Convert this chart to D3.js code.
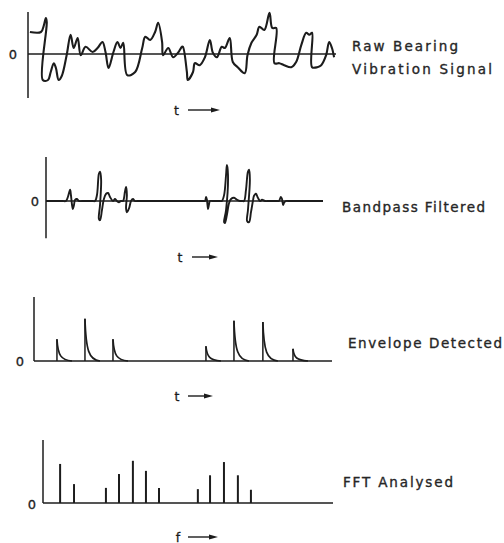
<!DOCTYPE html>
<html><head><meta charset="utf-8">
<script src="https://cdn.jsdelivr.net/npm/d3@7"></script>
<style>body{margin:0;background:#fff}svg{display:block}</style>
</head><body>
<svg id="c" width="504" height="543"></svg>
<script>
// ---- data (time/frequency in 0..100 units, amplitudes in arbitrary units) ----
const rawTime = [0.3,3.9,4.9,5.5,5.8,4.5,6.2,7.1,8.1,8.8,9.7,10.7,12.3,13.6,14.6,15.9,16.9,18.5,20.8,22.4,24.0,25.0,26.0,27.6,28.9,29.9,30.8,32.1,34.7,37.0,38.0,39.6,41.2,42.2,43.5,43.8,45.5,47.1,48.7,50.0,50.3,51.6,51.9,53.6,54.2,55.8,57.5,59.1,60.1,61.4,63.0,64.0,65.6,66.6,68.2,70.5,71.4,72.7,74.4,75.3,76.9,78.6,79.5,80.8,80.2,81.8,83.4,85.7,87.3,89.0,90.6,91.6,92.5,92.5,94.2,95.5,97.1,98.1,99.0,99.7];
const rawAmp  = [0.55,0.55,0.73,0.9,0.8,-0.65,-0.65,-0.45,-0.23,-0.35,-0.65,-0.55,-0.03,0.48,0.15,0.4,-0.03,0.18,0.05,0.15,0.3,0.05,-0.35,0.05,0.3,0.15,0.28,-0.53,-0.45,0.15,0.43,0.35,0.55,0.78,0.3,-0.03,0.15,-0.08,0.03,0.18,0.18,-0.45,-0.65,-0.45,-0.23,-0.28,-0.08,0.35,0.03,-0.08,0.18,0.15,0.4,-0.2,-0.33,-0.48,-0.03,0.28,0.48,0.68,0.6,1.03,0.65,0.65,-0.23,-0.23,-0.28,-0.33,-0.2,0.23,0.53,0.48,0.53,-0.33,-0.33,-0.28,-0.03,0.3,0.15,-0.08];

const bandTime = [0,3,6,7.2,7.9,8.7,9.0,9.4,9.7,10.1,10.5,11.2,11.9,13,15,16.8,
  17.7,18.4,19.1,19.5,19.9,19.5,19.1,19.5,20.2,20.9,21.7,22.4,23.1,24.2,24.9,25.6,26.4,27.1,
  27.8,28.5,28.9,29.2,28.9,29.2,30.0,30.7,31.4,32.1,33,40,50,56,56.8,
  57.4,57.8,58.1,58.5,58.8,59.2,60,61.5,62.8,
  63.5,64.3,65.0,65.3,65.7,65.0,64.3,64.6,65.3,66.1,66.8,67.9,69.0,70.0,70.8,
  71.5,72.2,72.9,73.3,73.6,72.9,72.6,73.3,74.0,74.7,75.1,75.8,76.5,77.3,78.0,79.1,80.5,82.5,83.5,
  84.1,84.8,85.2,85.6,85.9,86.6,87.5,93,100];
const bandAmp = [0,0,0,0,0.1,0.28,0.15,-0.1,-0.2,-0.1,0.03,0.05,0,0,0,0,
  0,0.15,0.68,0.73,0.53,-0.1,-0.45,-0.48,-0.23,0.05,0.18,0.2,0.1,0,0.05,0,-0.03,0,
  0,0.23,0.35,0.15,-0.18,-0.28,-0.18,0,0.05,0,0,0,0,0,0,
  0,0.1,0.03,-0.2,-0.1,0,0,0,0,
  0,0.15,0.65,0.9,0.65,-0.23,-0.53,-0.55,-0.35,-0.05,0.05,0.08,0.03,0,0,
  0,0.28,0.73,0.78,0.53,-0.23,-0.5,-0.53,-0.28,0,0.13,0.18,0.08,0,0.03,0,0,0,0,
  0,0.1,0.05,-0.1,-0.05,0,0,0,0];

const envTime   = [7.7,17.1,26.5,57.7,67.1,76.8,86.9];
const envHeight = [0.34,0.66,0.34,0.23,0.63,0.61,0.19];

const fftFreq   = [5.9,10.7,21.7,26.2,31.0,35.5,40.0,53.4,57.6,62.4,67.2,71.7];
const fftHeight = [0.62,0.30,0.24,0.46,0.67,0.51,0.24,0.22,0.44,0.65,0.44,0.21];

const panelLabels = [["Raw Bearing","Vibration Signal"],["Bandpass Filtered"],["Envelope Detected"],["FFT Analysed"]];
const axisVars = ["t","t","t","f"];
const zeroText = "0";

// ---- drawing ----
const svg = d3.select("#c");
const ink = "#1c1c1c";
const font = "'DejaVu Sans', sans-serif";

function arrow(label, cx, cy, x0, x1){
  svg.append("text").attr("x",cx).attr("y",cy).attr("text-anchor","middle")
    .attr("dominant-baseline","central").attr("font-family",font).attr("font-size",12.5)
    .attr("fill",ink).attr("stroke",ink).attr("stroke-width",0.3).text(label);
  svg.append("line").attr("x1",x0).attr("x2",x1-6).attr("y1",cy).attr("y2",cy)
    .attr("stroke",ink).attr("stroke-width",1.4);
  svg.append("path").attr("d",`M${x1-9},${cy-2.5}L${x1},${cy}L${x1-9},${cy+2.5}Z`).attr("fill",ink);
}
function zero(cx, cy){
  svg.append("text").attr("x",cx).attr("y",cy).attr("text-anchor","middle")
    .attr("dominant-baseline","central").attr("font-family",font).attr("font-size",13)
    .attr("fill",ink).attr("stroke",ink).attr("stroke-width",0.3).text(zeroText);
}
function label(text, x, y, w){
  svg.append("text").attr("x",x).attr("y",y).attr("font-family",font).attr("font-size",13.5)
    .attr("fill","#262626").attr("stroke","#262626").attr("stroke-width",0.35)
    .attr("textLength",w).attr("lengthAdjust","spacing").text(text);
}
function vline(x, y0, y1, sw){
  svg.append("line").attr("x1",x).attr("x2",x).attr("y1",y0).attr("y2",y1)
    .attr("stroke",ink).attr("stroke-width",sw||1.5);
}
function hline(y, x0, x1, sw){
  svg.append("line").attr("x1",x0).attr("x2",x1).attr("y1",y).attr("y2",y)
    .attr("stroke",ink).attr("stroke-width",sw||1.5);
}

// Panel 1: raw signal
{
  const x = d3.scaleLinear([0,100],[29,335]);
  const y = d3.scaleLinear([-1,1],[94,14]);
  vline(28, y(-1.1), y(1.05));
  hline(y(0), 28, 336, 1.3);
  const pts = rawTime.map((t,i)=>[t, rawAmp[i]]);
  svg.append("path").datum(pts)
    .attr("d", d3.line().x(d=>x(d[0])).y(d=>y(d[1])).curve(d3.curveCatmullRom.alpha(0.5)))
    .attr("fill","none").attr("stroke",ink).attr("stroke-width",2.1).attr("stroke-linejoin","round");
  zero(13, y(0));
  arrow(axisVars[0], 176.5, 110, 188, 220);
  label(panelLabels[0][0], 352, 51, 106);
  label(panelLabels[0][1], 352, 74, 140);
}

// Panel 2: bandpass filtered
{
  const x = d3.scaleLinear([0,100],[46,323]);
  const y = d3.scaleLinear([-1,1],[241,161]);
  vline(46, y(1.1), y(-0.93));
  hline(y(0), 46, 323, 1.3);
  const pts = bandTime.map((t,i)=>[t, bandAmp[i]]);
  svg.append("path").datum(pts)
    .attr("d", d3.line().x(d=>x(d[0])).y(d=>y(d[1])).curve(d3.curveCatmullRom.alpha(0.5)))
    .attr("fill","none").attr("stroke",ink).attr("stroke-width",1.9).attr("stroke-linejoin","round");
  zero(35, y(0));
  arrow(axisVars[1], 180, 257, 192, 218);
  label(panelLabels[1][0], 342, 212, 143);
}

// Panel 3: envelope detected
{
  const x = d3.scaleLinear([0,100],[34,332]);
  const y = d3.scaleLinear([0,1],[361,297]);
  vline(34, y(0), y(1));
  hline(y(0), 34, 332, 1.5);
  const g = svg.append("g");
  envTime.forEach((t,i)=>{
    const x0 = x(t), yt = y(envHeight[i]), yb = y(0);
    g.append("line").attr("x1",x0).attr("x2",x0).attr("y1",yb).attr("y2",yt)
      .attr("stroke",ink).attr("stroke-width",1.5);
    const p = d3.path();
    p.moveTo(x0, yt);
    p.bezierCurveTo(x0+1, yb-(yb-yt)*0.25, x0+4, yb-1, x0+15, yb);
    g.append("path").attr("d",p.toString()).attr("fill","none")
      .attr("stroke",ink).attr("stroke-width",1.7);
  });
  zero(20, y(0));
  arrow(axisVars[2], 177, 396, 188, 213);
  label(panelLabels[2][0], 348, 348, 154);
}

// Panel 4: FFT
{
  const x = d3.scaleLinear([0,100],[43,333]);
  const y = d3.scaleLinear([0,1],[503,440]);
  vline(43, y(0), y(1));
  hline(y(0), 43, 333, 1.5);
  svg.append("g").selectAll("line").data(fftFreq).join("line")
    .attr("x1",d=>x(d)).attr("x2",d=>x(d)).attr("y1",y(0))
    .attr("y2",(d,i)=>y(fftHeight[i])).attr("stroke",ink).attr("stroke-width",2);
  zero(32, y(0)+1);
  arrow(axisVars[3], 178, 537, 188, 218);
  label(panelLabels[3][0], 343, 487, 110);
}
</script>
</body></html>
